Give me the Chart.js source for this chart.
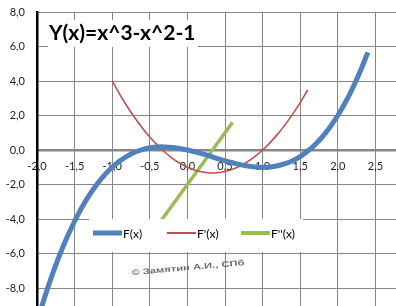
<!DOCTYPE html>
<html>
<head>
<meta charset="utf-8">
<script src="https://cdn.jsdelivr.net/npm/chart.js@4"></script>
<style>
    html, body { margin: 0; padding: 0; background: #fff; overflow: hidden; }
    #wrap { width: 396px; height: 306px; overflow: hidden; position: relative; }
</style>
</head>
<body>
<div id="wrap"><canvas id="chart" width="430" height="331"></canvas></div>
<script>
// --- chart data ---
const chartTitle = 'Y(x)=x^3-x^2-1';
const seriesNames = ['F(x)', "F'(x)", "F''(x)"];
const seriesColors = ['#4f81bd', '#c0504d', '#9bbb59'];

const fX = [-2.0, -1.9, -1.8, -1.7, -1.6, -1.5, -1.4, -1.3, -1.2, -1.1, -1.0, -0.9, -0.8, -0.7, -0.6, -0.5, -0.4, -0.3, -0.2, -0.1,
    0.0, 0.1, 0.2, 0.3, 0.4, 0.5, 0.6, 0.7, 0.8, 0.9, 1.0, 1.1, 1.2, 1.3, 1.4, 1.5, 1.6, 1.7, 1.8, 1.9, 2.0, 2.1, 2.2, 2.3, 2.4];
const fY = [-10.0, -8.57, -7.27, -6.10, -5.06, -4.13, -3.30, -2.59, -1.97, -1.44, -1.0, -0.64, -0.35, -0.13, 0.02, 0.13, 0.18, 0.18, 0.15, 0.09,
    0.0, -0.11, -0.23, -0.36, -0.50, -0.63, -0.74, -0.85, -0.93, -0.98, -1.0, -0.98, -0.91, -0.79, -0.62, -0.38, -0.06, 0.32, 0.79, 1.35, 2.0, 2.75, 3.61, 4.58, 5.66];

const dX = [-1.0, -0.9, -0.8, -0.7, -0.6, -0.5, -0.4, -0.3, -0.2, -0.1, 0.0, 0.1, 0.2, 0.3, 0.4, 0.5, 0.6, 0.7, 0.8, 0.9, 1.0, 1.1, 1.2, 1.3, 1.4, 1.5, 1.6];
const dY = [4.0, 3.23, 2.52, 1.87, 1.28, 0.75, 0.28, -0.13, -0.48, -0.77, -1.0, -1.17, -1.28, -1.33, -1.32, -1.25, -1.12, -0.93, -0.68, -0.37, 0.0, 0.43, 0.92, 1.47, 2.08, 2.75, 3.48];

const d2X = [-0.35, 0.0, 0.3, 0.6];
const d2Y = [-4.1, -2.0, -0.2, 1.6];

const xTickLabels = ['-2,0', '-1,5', '-1,0', '-0,5', '0,0', '0,5', '1,0', '1,5', '2,0', '2,5', '3,0'];
const yTickLabels = ['-10,0', '-8,0', '-6,0', '-4,0', '-2,0', '0,0', '2,0', '4,0', '6,0', '8,0'];

const watermark = '\u00a9 Замятин А.И., СПб';

function toPoints(xs, ys) {
    return xs.map((x, i) => ({ x: x, y: ys[i] }));
}

// title, legend and the little copyright note drawn over the plot
const overlayPlugin = {
    id: 'overlay',
    afterDatasetsDraw(chart) {
        const ctx = chart.ctx;
        ctx.save();
        // title box
        ctx.fillStyle = '#fff';
        ctx.fillRect(48, 20, 150, 27);
        ctx.fillStyle = '#000';
        ctx.font = 'bold 21px Lato';
        ctx.textBaseline = 'middle';
        ctx.textAlign = 'left';
        ctx.fillText(chartTitle, 49, 33);

        // legend box
        ctx.fillStyle = '#fff';
        ctx.fillRect(89, 219, 214, 33);
        const legendX = [93, 167, 241];
        const legendW = [5, 2, 4];
        ctx.font = '12px Lato';
        seriesNames.forEach((name, i) => {
            ctx.strokeStyle = seriesColors[i];
            ctx.lineWidth = legendW[i];
            ctx.beginPath();
            ctx.moveTo(legendX[i], 233);
            ctx.lineTo(legendX[i] + 29, 233);
            ctx.stroke();
            ctx.fillStyle = '#000';
            ctx.fillText(name, legendX[i] + 30, 234);
        });

        // copyright note
        ctx.translate(188, 268);
        ctx.rotate(-5 * Math.PI / 180);
        ctx.scale(1.4, 1);
        ctx.fillStyle = '#6e6e6e';
        ctx.font = 'bold 8px "Liberation Sans"';
        ctx.textAlign = 'center';
        ctx.fillText(watermark, 0, 0);
        ctx.restore();
    }
};

const ctx = document.getElementById('chart').getContext('2d');
const chart = new Chart(ctx, {
    type: 'scatter',
    data: {
        datasets: [
            { label: seriesNames[0], data: toPoints(fX, fY), showLine: true, borderColor: seriesColors[0], borderWidth: 5, pointRadius: 0, tension: 0.3 },
            { label: seriesNames[1], data: toPoints(dX, dY), showLine: true, borderColor: seriesColors[1], borderWidth: 1.6, pointRadius: 0, tension: 0.3 },
            { label: seriesNames[2], data: toPoints(d2X, d2Y), showLine: true, borderColor: seriesColors[2], borderWidth: 3.5, pointRadius: 0 }
        ]
    },
    options: {
        responsive: false,
        animation: false,
        events: [],
        layout: { padding: { top: 12, right: 17, bottom: 8.5, left: 0 } },
        plugins: {
            legend: { display: false },
            tooltip: { enabled: false }
        },
        scales: {
            x: {
                type: 'linear',
                position: { y: 0 },
                min: -2, max: 3,
                afterFit: s => { s.paddingLeft = 0; s.paddingRight = 0; },
                ticks: {
                    stepSize: 0.5,
                    padding: 10,
                    color: '#222',
                    font: { family: 'Lato', size: 11 },
                    maxRotation: 0,
                    callback: (v, i) => xTickLabels[i]
                },
                grid: { color: '#878787', lineWidth: 1, drawTicks: false },
                border: { color: '#878787', width: 2.5 }
            },
            y: {
                type: 'linear',
                position: 'left',
                min: -10, max: 8,
                afterFit: s => { s.width = 37; s.paddingTop = 0; s.paddingBottom = 0; },
                ticks: {
                    stepSize: 2,
                    padding: 12,
                    color: '#222',
                    font: { family: 'Lato', size: 11 },
                    callback: (v, i) => yTickLabels[i]
                },
                grid: { color: '#878787', lineWidth: 1, drawTicks: false },
                border: { color: '#000', width: 2.5 }
            }
        }
    },
    plugins: [overlayPlugin]
});
</script>
</body>
</html>
